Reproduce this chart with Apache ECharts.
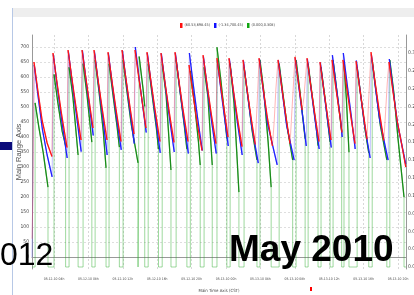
<!DOCTYPE html>
<html>
<head>
<meta charset="utf-8">
<style>
  html, body { margin: 0; padding: 0; background: #fff; }
  #chart { width: 414px; height: 295px; }
</style>
<script src="https://cdn.jsdelivr.net/npm/echarts@6/dist/echarts.min.js"></script>
</head>
<body>
<div id="chart"></div>
<script>
// x values are hours after 2010-05-12 00:00 CST
const timeTicks = [4, 8, 12, 16, 20, 24, 28, 32, 36, 40, 44];
const rangeTicks = [0, 50, 100, 150, 200, 250, 300, 350, 400, 450, 500, 550, 600, 650, 700];
const rateTicks = [0, 0.025, 0.05, 0.075, 0.1, 0.125, 0.15, 0.175, 0.2, 0.225, 0.25, 0.275, 0.3];
const legendNames = ['(60.53,698.45)', '(-1.34,700.45)', '(0.000,0.308)'];

// red trace: start, then one decay per cycle (peak -> last point before the rise)
const redLead = [[1.45, 61], [1.55, 220]];
const redDecays = [
  [[1.67, 650], [2.12, 555], [2.62, 455], [3.20, 380], [3.76, 335]],
  [[3.88, 680], [4.33, 585], [4.83, 485], [5.51, 365]],
  [[5.63, 690], [6.08, 595], [6.58, 495], [7.14, 390]],
  [[7.26, 690], [7.71, 595], [8.21, 495], [8.53, 430]],
  [[8.65, 690], [9.10, 595], [9.60, 495], [10.16, 390]],
  [[10.28, 683], [10.73, 588], [11.23, 488], [11.79, 385]],
  [[11.91, 690], [12.36, 595], [12.86, 495], [13.30, 410]],
  [[13.42, 690], [13.87, 595], [14.37, 495], [14.69, 430]],
  [[14.81, 683], [15.26, 588], [15.76, 488], [16.32, 385]],
  [[16.44, 680], [16.89, 585], [17.39, 485], [17.95, 382]],
  [[18.07, 683], [18.52, 588], [19.02, 488], [19.58, 385]],
  [[19.70, 640], [20.15, 545], [20.65, 445], [21.21, 355]],
  [[21.33, 673], [21.78, 578], [22.28, 478], [22.83, 378]],
  [[22.95, 663], [23.40, 568], [23.90, 468], [24.23, 400]],
  [[24.35, 663], [24.80, 568], [25.30, 468], [25.86, 368]],
  [[25.98, 657], [26.43, 562], [26.93, 462], [27.40, 375]],
  [[27.84, 663], [28.29, 568], [28.79, 468], [29.40, 370]],
  [[30.05, 657], [30.50, 562], [31.00, 462], [31.45, 378]],
  [[32.02, 667], [32.47, 572], [32.85, 490]],
  [[33.42, 663], [33.87, 568], [34.37, 468], [34.81, 385]],
  [[34.93, 650], [35.38, 555], [35.88, 455], [36.21, 390]],
  [[36.33, 657], [36.78, 562], [37.28, 462], [37.48, 415]],
  [[37.60, 657], [38.05, 562], [38.55, 462], [39.00, 378]],
  [[39.12, 653], [39.57, 558], [40.07, 458], [40.40, 392]],
  [[40.86, 683], [41.31, 588], [41.81, 488], [42.35, 388]],
  [[42.95, 650], [43.40, 555], [43.90, 455], [44.40, 380], [44.90, 300]]
];
// slower stepped rises, keyed by the decay they follow
const redRises = {
  15: [[27.55, 470], [27.70, 560]],
  16: [[29.60, 450], [29.80, 560]],
  17: [[31.65, 480], [31.85, 580]],
  18: [[33.05, 530], [33.25, 600]],
  23: [[40.55, 500], [40.72, 600]],
  24: [[42.55, 480], [42.75, 580]]
};

const blueLead = [[1.44, -1], [1.62, -1]];
const blueDecays = [
  [[1.70, 640], [2.15, 535], [2.65, 425], [3.20, 340], [3.78, 267]],
  [[3.92, 675], [4.37, 570], [4.87, 460], [5.53, 330]],
  [[5.67, 685], [6.12, 580], [6.62, 470], [7.16, 351]],
  [[7.30, 688], [7.75, 583], [8.25, 473], [8.56, 405]],
  [[8.70, 685], [9.15, 580], [9.65, 470], [10.18, 340]],
  [[10.32, 680], [10.77, 575], [11.27, 465], [11.82, 357]],
  [[11.95, 688], [12.40, 583], [12.90, 473], [13.33, 378]],
  [[13.45, 700], [13.90, 595], [14.40, 485], [14.72, 415]],
  [[14.85, 680], [15.30, 575], [15.80, 465], [16.35, 347]],
  [[16.48, 678], [16.93, 573], [17.43, 463], [17.98, 350]],
  [[18.11, 680], [18.56, 575], [19.06, 465], [19.62, 345]],
  [[19.74, 680], [20.19, 575], [20.69, 465], [21.24, 355]],
  [[21.37, 668], [21.82, 563], [22.32, 453], [22.86, 345]],
  [[22.99, 655], [23.44, 550], [23.94, 440], [24.26, 370]],
  [[24.39, 660], [24.84, 555], [25.34, 445], [25.88, 340]],
  [[26.02, 655], [26.47, 550], [26.97, 440], [27.75, 313]],
  [[27.88, 660], [28.33, 555], [28.83, 445], [29.95, 307]],
  [[30.09, 655], [30.54, 550], [31.04, 440], [31.92, 323]],
  [[32.06, 662], [32.51, 557], [33.01, 447], [33.33, 370]],
  [[33.46, 660], [33.91, 555], [34.41, 445], [34.83, 360]],
  [[34.97, 648], [35.42, 543], [35.92, 433], [36.24, 365]],
  [[36.37, 673], [36.82, 568], [37.32, 458], [37.51, 400]],
  [[37.64, 680], [38.09, 575], [38.59, 465], [39.02, 360]],
  [[39.16, 655], [39.61, 550], [40.11, 440], [40.76, 330]],
  [[40.90, 675], [41.35, 570], [41.85, 460], [42.85, 323]],
  [[42.99, 660], [43.44, 555], [43.94, 445], [44.90, 310]]
];
const blueRises = {};

// green (right axis): each pulse jumps up from 0, decays, then drops back to 0
const greenPulses = [
  [[1.80, 0.230], [2.25, 0.195], [2.75, 0.160], [3.30, 0.112]],
  [[4.00, 0.270], [4.45, 0.230], [4.95, 0.190], [5.35, 0.170]],
  [[5.75, 0.280], [6.20, 0.238], [6.80, 0.157]],
  [[7.38, 0.285], [7.83, 0.242], [8.40, 0.175]],
  [[8.78, 0.290], [9.23, 0.246], [9.73, 0.190], [10.05, 0.139]],
  [[10.40, 0.285], [10.85, 0.242], [11.35, 0.195], [11.60, 0.168]],
  [[12.03, 0.290], [12.48, 0.246], [12.98, 0.200], [13.77, 0.146]],
  [[13.90, 0.295], [14.35, 0.250], [14.55, 0.225]],
  [[14.95, 0.285], [15.40, 0.242], [15.90, 0.195], [16.15, 0.165]],
  [[16.58, 0.285], [17.03, 0.242], [17.60, 0.136]],
  [[18.20, 0.290], [18.65, 0.246], [19.15, 0.198], [19.45, 0.165]],
  [[19.85, 0.275], [20.30, 0.233], [20.80, 0.175], [21.00, 0.143]],
  [[21.45, 0.280], [21.90, 0.238], [22.40, 0.143]],
  [[22.95, 0.308], [23.40, 0.262], [23.90, 0.205], [24.10, 0.180]],
  [[24.48, 0.285], [24.93, 0.230], [25.30, 0.150], [25.50, 0.105]],
  [[26.10, 0.280], [26.55, 0.238], [27.05, 0.190], [27.60, 0.150]],
  [[27.95, 0.290], [28.40, 0.246], [28.90, 0.175], [29.25, 0.112]],
  [[30.18, 0.285], [30.63, 0.242], [31.13, 0.195], [31.75, 0.150]],
  [[32.15, 0.290], [32.60, 0.246], [33.20, 0.180]],
  [[33.55, 0.285], [34.00, 0.242], [34.50, 0.195], [34.70, 0.170]],
  [[35.05, 0.280], [35.50, 0.238], [36.10, 0.175]],
  [[36.45, 0.290], [36.90, 0.246], [37.45, 0.190]],
  [[37.72, 0.285], [38.00, 0.235], [38.30, 0.161]],
  [[39.25, 0.280], [39.70, 0.238], [40.20, 0.190], [40.60, 0.160]],
  [[41.00, 0.290], [41.45, 0.246], [41.95, 0.198], [42.70, 0.150]],
  [[43.05, 0.290], [43.50, 0.246], [44.00, 0.180], [44.70, 0.098]]
];

const X_MIN = 1.44, X_MAX = 44.93;
const smallFont = "'Liberation Sans Narrow', 'DejaVu Sans Condensed', sans-serif";

function fullTrace(lead, decays, rises) {
  const out = lead.slice();
  decays.forEach((d, i) => {
    out.push(...d);
    if (rises[i]) out.push(...rises[i]);
  });
  return out;
}

function decayPieces(decays) {
  const out = [];
  decays.forEach(d => {
    out.push(...d);
    out.push([d[d.length - 1][0], '-']);
  });
  return out;
}

function pulseTrace(pulses) {
  const out = [[X_MIN, 0]];
  pulses.forEach(p => {
    out.push([p[0][0], 0], ...p, [p[p.length - 1][0], 0]);
  });
  out.push([X_MAX, 0]);
  return out;
}

function timeLabel(h) {
  const day = h < 24 ? '05-12-10' : '05-13-10';
  const hh = String(h % 24).padStart(2, '0');
  return day + ' ' + hh + 'h';
}

function rateLabel(v) {
  return (Math.floor(v * 100 + 1e-6) / 100).toFixed(2);
}

const chart = echarts.init(document.getElementById('chart'), null, { renderer: 'canvas' });

const lightLine = (name, color, itemColor, data, yAxisIndex) => ({
  name, type: 'line', data, yAxisIndex,
  showSymbol: false, symbol: 'none',
  lineStyle: { color, width: 1 },
  itemStyle: { color: itemColor },
  emphasis: { disabled: true }
});
const solidLine = (name, color, data, yAxisIndex) => ({
  name, type: 'line', data, yAxisIndex,
  showSymbol: false, symbol: 'none', connectNulls: false,
  lineStyle: { color, width: 1.3 },
  itemStyle: { color },
  emphasis: { disabled: true }
});

chart.setOption({
  animation: false,
  backgroundColor: '#fff',
  textStyle: { fontFamily: smallFont },
  grid: { left: 32, right: 8, top: 35, bottom: 26, outerBoundsMode: 'none', containLabel: false },
  legend: {
    data: legendNames,
    left: 180, top: 23, padding: 0,
    icon: 'rect', itemWidth: 2.5, itemHeight: 5, itemGap: 4,
    textStyle: { fontSize: 3.8, color: '#444', fontFamily: smallFont, padding: [0, 0, 0, -3] }
  },
  xAxis: {
    type: 'value', min: X_MIN, max: X_MAX,
    name: 'Main Time Axis (CST)', nameLocation: 'middle', nameGap: 20, nameMoveOverlap: false,
    nameTextStyle: { fontSize: 4.3, color: '#444', fontFamily: smallFont },
    axisLine: { lineStyle: { color: '#999', width: 1 } },
    axisTick: { show: false, customValues: timeTicks },
    axisLabel: { customValues: timeTicks, formatter: timeLabel, fontSize: 3.4, color: '#444', margin: 9, fontFamily: smallFont },
    splitLine: { show: true, lineStyle: { color: '#cfcfcf', type: [2, 2], width: 0.8 } }
  },
  yAxis: [
    {
      type: 'value', min: -40, max: 740, position: 'left',
      name: 'Main Range Axis', nameLocation: 'middle', nameGap: 9, nameRotate: 90, nameMoveOverlap: false,
      nameTextStyle: { fontSize: 7.5, color: '#555', fontFamily: "'Liberation Sans', sans-serif" },
      axisLine: { show: true, lineStyle: { color: '#999', width: 1 } },
      axisTick: { show: false, customValues: rangeTicks },
      axisLabel: { customValues: rangeTicks, fontSize: 5, color: '#444', margin: 3, fontFamily: smallFont },
      splitLine: { show: true, lineStyle: { color: '#d6d6d6', type: [2, 2], width: 0.8 } }
    },
    {
      type: 'value', min: -0.0028, max: 0.3252, position: 'right',
      axisLine: { show: true, lineStyle: { color: '#999', width: 1 } },
      axisTick: { show: false, customValues: rateTicks },
      axisLabel: { customValues: rateTicks, formatter: rateLabel, fontSize: 5, color: '#444', margin: 2, fontFamily: smallFont },
      splitLine: { show: false }
    }
  ],
  series: [
    lightLine(legendNames[2], 'rgba(40,170,40,0.45)', '#11a611', pulseTrace(greenPulses), 1),
    lightLine(legendNames[1], 'rgba(70,70,255,0.35)', '#1010ff', fullTrace(blueLead, blueDecays, blueRises), 0),
    lightLine(legendNames[0], 'rgba(255,60,60,0.38)', '#ff1010', fullTrace(redLead, redDecays, redRises), 0),
    solidLine(legendNames[2], '#1a8c1a', decayPieces(greenPulses), 1),
    solidLine(legendNames[1], '#2020ff', decayPieces(blueDecays), 0),
    solidLine(legendNames[0], '#ff1515', decayPieces(redDecays), 0)
  ],
  graphic: [
    { type: 'rect', silent: true, z: 50, shape: { x: 13, y: 8, width: 401, height: 9 }, style: { fill: '#eeeeee' } },
    { type: 'line', silent: true, z: 50, shape: { x1: 12.5, y1: 8, x2: 12.5, y2: 295 }, style: { stroke: '#b7c8e6', lineWidth: 1 } },
    { type: 'rect', silent: true, z: 50, shape: { x: 0, y: 142, width: 12, height: 8 }, style: { fill: '#0b0b7a' } },
    { type: 'rect', silent: true, z: 50, shape: { x: 310, y: 287, width: 2, height: 4 }, style: { fill: '#ff0000' } },
    { type: 'text', silent: true, z: 100, x: 0, y: 256.5,
      style: { text: '012', fontSize: 32, fontFamily: "'Liberation Sans', Arial, sans-serif", fill: '#000', align: 'left', verticalAlign: 'middle' } },
    { type: 'text', silent: true, z: 100, x: 229, y: 251,
      style: { text: 'May 2010', fontSize: 37, fontWeight: 'bold', fontFamily: "'Liberation Sans', Arial, sans-serif", fill: '#000', align: 'left', verticalAlign: 'middle' } }
  ]
});
</script>
</body>
</html>
